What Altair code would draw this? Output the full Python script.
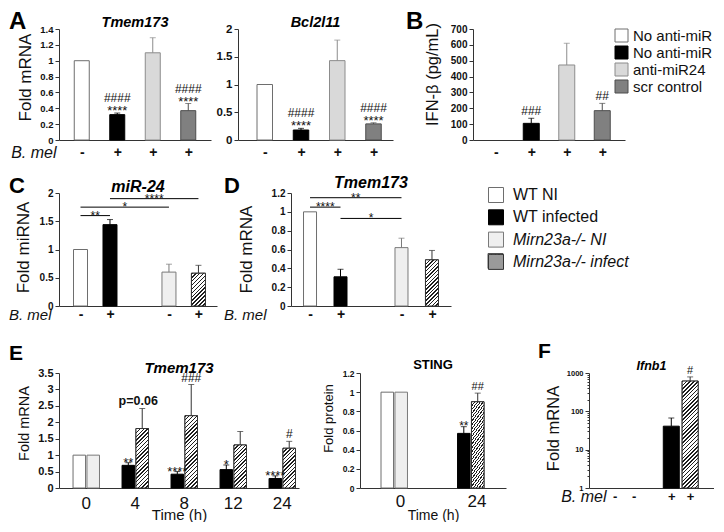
import math
import altair as alt
import pandas as pd

FONT = "Liberation Sans"
AX = "#333333"
TXT = "#111111"

# ---------------- data ----------------
AB_KEYS = ["none_ni", "none_inf", "anti24", "scr"]
AB_LEG = ["No anti-miR", "No anti-miR", "anti-miR24", "scr control"]
AB_BMEL = ["-", "+", "+", "+"]

A1_VAL = [1.00, 0.32, 1.10, 0.37]
A1_ERR = [0.00, 0.02, 0.19, 0.09]
A1_HASH = ["", "####", "", "####"]
A1_STAR = ["", "****", "", "****"]

A2_VAL = [1.00, 0.18, 1.43, 0.29]
A2_ERR = [0.00, 0.03, 0.37, 0.02]
A2_HASH = ["", "####", "", "####"]
A2_STAR = ["", "****", "", "****"]

B_VAL = [0, 105, 473, 185]
B_ERR = [0, 32, 137, 46]
B_HASH = ["", "###", "", "##"]

G_KEYS = ["wt_ni", "wt_inf", "ko_ni", "ko_inf"]
G_LEG = ["WT NI", "WT infected", "Mirn23a-/- NI", "Mirn23a-/- infect"]

CD_SLOTS = ["wt_ni", "wt_inf", "", "ko_ni", "ko_inf"]
CD_BMEL = ["-", "+", "", "-", "+"]

C_VAL = [1.00, 1.44, 0.60, 0.58]
C_ERR = [0.00, 0.09, 0.14, 0.14]
C_BR_FROM = ["wt_ni", "wt_ni", "wt_inf"]
C_BR_TO = ["wt_inf", "ko_ni", "ko_inf"]
C_BR_TXT = ["**", "*", "****"]
C_BR_LVL = [1.60, 1.75, 1.90]

D_VAL = [1.00, 0.31, 0.62, 0.49]
D_ERR = [0.00, 0.08, 0.10, 0.10]
D_BR_FROM = ["wt_ni", "wt_ni", "wt_inf"]
D_BR_TO = ["wt_inf", "ko_ni", "ko_ni"]
D_BR_TXT = ["****", "**", "*"]
D_BR_LVL = [1.05, 1.15, 0.93]

E_TIMES = ["0", "4", "8", "12", "24"]
E_WT_VAL = [1.00, 0.69, 0.42, 0.56, 0.29]
E_WT_ERR = [0.00, 0.08, 0.08, 0.14, 0.08]
E_KO_VAL = [1.00, 1.81, 2.20, 1.31, 1.21]
E_KO_ERR = [0.00, 0.61, 0.95, 0.41, 0.21]
E_WT_STAR = ["", "**", "****", "*", "****"]
E_KO_HASH = ["", "", "###", "", "#"]
E_KO_NOTE = ["", "p=0.06", "", "", ""]

S_TIMES = ["0", "24"]
S_WT_VAL = [1.00, 0.57]
S_WT_ERR = [0.00, 0.07]
S_KO_VAL = [1.00, 0.90]
S_KO_ERR = [0.00, 0.09]
S_WT_STAR = ["", "**"]
S_KO_HASH = ["", "##"]

F_SLOTS = ["wt_ni", "ko_ni", "", "wt_inf", "ko_inf"]
F_BMEL = ["-", "-", "", "+", "+"]
F_KEYS = ["wt_ni", "ko_ni", "wt_inf", "ko_inf"]
F_VAL = [None, None, 41, 616]
F_ERR = [0, 0, 26, 175]
F_HASH = ["", "", "", "#"]

# ---------------- styles ----------------
FILL = {"none_ni": "#ffffff", "none_inf": "#000000", "anti24": "#d9d9d9", "scr": "#808080",
        "wt_ni": "#ffffff", "wt_inf": "#000000", "ko_ni": "#efefef", "ko_inf": "#9a9a9a"}
LINE = {"none_ni": "#6e6e6e", "none_inf": "#000000", "anti24": "#8c8c8c", "scr": "#4d4d4d",
        "wt_ni": "#6e6e6e", "wt_inf": "#000000", "ko_ni": "#7a7a7a", "ko_inf": "#333333"}


def hatch(w, h, pitch=3.8, dark=0.38):
    w = float(w)
    h = float(h)
    k = (w + h) / (w + h * h / w)
    n = max(2, int(round((w + h) / pitch)))
    stops = []
    for i in range(n):
        a = round(i / n, 5)
        b = round((i + dark) / n, 5)
        c = round((i + 1) / n, 5)
        stops += [{"offset": a, "color": "#1e1e1e"}, {"offset": b, "color": "#1e1e1e"},
                  {"offset": b, "color": "#ffffff"}, {"offset": c, "color": "#ffffff"}]
    return {"gradient": "linear", "x1": 0, "y1": 0, "x2": round(k, 5),
            "y2": round(k * h / w, 5), "stops": stops}


def y_axis(values, title, tx, ty, lsize, tsize, **extra):
    kw = dict(values=values, format="~r", labelFont=FONT, labelFontSize=lsize,
              labelFontWeight="bold", labelColor=TXT, labelPadding=2, tickSize=4,
              tickColor=AX, domainColor=AX, grid=False, labelFlush=False, labelOverlap=False)
    if title:
        kw.update(title=title, titleX=tx, titleY=ty, titleFont=FONT, titleFontSize=tsize,
                  titleFontWeight="normal", titleColor=TXT, titleBaseline="alphabetic",
                  titleAlign="center", titleAngle=270)
    else:
        kw["title"] = None
    kw.update(extra)
    return alt.Axis(**kw)


def x_slot_axis(labels, lsize, pad, bmel=None):
    vals = [i + 1 for i, l in enumerate(labels) if l]
    expr = "[" + ",".join("'%s'" % l for l in labels) + "][datum.value - 1]"
    kw = dict(values=vals, labelExpr=expr, labelFont=FONT, labelFontSize=lsize,
              labelFontWeight="bold", labelColor=TXT, labelBaseline="middle", labelPadding=pad,
              ticks=False, tickSize=0, domainColor=AX, grid=False, labelAngle=0,
              labelFlush=False, labelOverlap=False)
    if bmel:
        kw.update(title="B. mel", titleFont=FONT, titleFontSize=bmel[2], titleFontStyle="italic",
                  titleFontWeight="normal", titleColor=TXT, titleX=bmel[0], titleY=bmel[1],
                  titleAlign="right", titleBaseline="middle", titleAngle=0)
    else:
        kw["title"] = None
    return alt.Axis(**kw)


def x_band_axis(lsize, pad, tsize, ty):
    return alt.Axis(labelFont=FONT, labelFontSize=lsize, labelFontWeight="normal", labelColor=TXT,
                    labelBaseline="middle", labelPadding=pad, ticks=False, tickSize=0,
                    domainColor=AX, grid=False, labelAngle=0, title="Time (h)", titleFont=FONT,
                    titleFontSize=tsize, titleFontWeight="normal", titleColor=TXT,
                    titleY=ty, titleBaseline="alphabetic")


def one(text=""):
    return alt.Chart(pd.DataFrame({"t": [text]}))


def letter_layer(letter, lx, ly, size):
    return one(letter).mark_text(
        font=FONT, fontSize=size, fontWeight="bold", align="left", baseline="top", color="#000000"
    ).encode(text="t:N", x=alt.value(lx), y=alt.value(ly))


def title_layer(text, w, base, size, italic=True):
    kw = dict(font=FONT, fontSize=size, fontWeight="bold", align="center",
              baseline="alphabetic", color="#000000")
    if italic:
        kw["fontStyle"] = "italic"
    return one(text).mark_text(**kw).encode(text="t:N", x=alt.value(w / 2), y=alt.value(base))


def frame_layer(h, top, bottom, left=50):
    # invisible box fixing the extent of a row around its plots
    return one().mark_rect(opacity=0).encode(
        x=alt.value(-left), x2=alt.value(0), y=alt.value(-top), y2=alt.value(h + bottom))


def scales_for(keys, legend):
    fill = alt.Fill("key:N", scale=alt.Scale(domain=keys, range=[FILL[k] for k in keys]),
                    legend=legend)
    strk = alt.Stroke("key:N", scale=alt.Scale(domain=keys, range=[LINE[k] for k in keys]),
                      legend=None)
    col = alt.Color("key:N", scale=alt.Scale(domain=keys, range=[LINE[k] for k in keys]),
                    legend=None)
    return fill, strk, col


def common_layers(df, X, Y, extra_enc, mk, keys, legend, hatched, star_dy, star_fs,
                  hash_dy, hash_fs, note_dx=0, log=False):
    fill, strk, col = scales_for(keys, legend)
    base = alt.Chart(df)
    benc = dict(extra_enc)
    if log:
        benc["y2"] = alt.Y2("base:Q")
    layers = [base.mark_bar(strokeWidth=1, **mk).encode(
        x=X, y=Y("val"), fill=fill, stroke=strk, **benc).transform_filter("datum.val > 0")]
    for rid, grad in hatched:
        layers.append(base.mark_bar(strokeWidth=1, fill=grad, stroke=LINE["ko_inf"], **mk).encode(
            x=X, y=Y("val"), **benc).transform_filter("datum.rid == %d" % rid))
    layers.append(base.mark_rule(strokeWidth=1).encode(
        x=X, y=Y("top"), y2=alt.Y2("val:Q"), color=col, **extra_enc).transform_filter("datum.err > 0"))
    layers.append(base.mark_tick(orient="horizontal", size=6, thickness=1).encode(
        x=X, y=Y("top"), color=col, **extra_enc).transform_filter("datum.err > 0"))
    if "star" in df:
        layers.append(base.mark_text(font=FONT, fontSize=star_fs, baseline="alphabetic",
                                     dy=star_dy, color=TXT).encode(
            x=X, y=Y("top"), text="star:N", **extra_enc).transform_filter("datum.star != ''"))
    if "hash" in df:
        layers.append(base.mark_text(font=FONT, fontSize=hash_fs, baseline="alphabetic",
                                     dy=hash_dy, color=TXT).encode(
            x=X, y=Y("top"), text="hash:N", **extra_enc).transform_filter("datum.hash != ''"))
    if "note" in df:
        layers.append(base.mark_text(font=FONT, fontSize=12.5, fontWeight="bold",
                                     baseline="alphabetic", dy=-3, dx=note_dx, color=TXT).encode(
            x=X, y=Y("top"), text="note:N", **extra_enc).transform_filter("datum.note != ''"))
    return layers


def slot_panel(keys, slots, vals, errs, width, height, xdom, bw, ys, yax, xax, yfrac,
               star=None, hsh=None, star_dy=3, star_fs=13, hash_dy=-3, hash_fs=12,
               legend=None, br=None, logmin=None):
    df = pd.DataFrame({"key": keys, "val": vals, "err": errs})
    df["pos"] = [slots.index(k) + 1 for k in keys]
    df["top"] = df["val"] + df["err"]
    df["rid"] = list(range(len(keys)))
    if logmin is not None:
        df["base"] = logmin
    if star:
        df["star"] = star
    if hsh:
        df["hash"] = hsh
    xs = alt.Scale(domain=xdom, nice=False, zero=False)

    def X(f):
        return alt.X(f + ":Q", scale=xs, axis=xax)

    def Y(f):
        return alt.Y(f + ":Q", scale=ys, axis=yax)

    hatched = []
    for i in range(len(keys)):
        v = vals[i]
        if keys[i] == "ko_inf" and v is not None and v > 0:
            hatched.append((i, hatch(bw, yfrac(v) * height)))
    layers = common_layers(df, X("pos"), Y, {}, {"size": bw}, keys, legend,
                           hatched, star_dy, star_fs, hash_dy, hash_fs, log=logmin is not None)
    if br:
        fr, to, txt, lvl = br
        dfb = pd.DataFrame({"b1": [slots.index(k) + 1 for k in fr],
                            "b2": [slots.index(k) + 1 for k in to], "txt": txt, "lvl": lvl})
        dfb["mid"] = (dfb["b1"] + dfb["b2"]) / 2
        bb = alt.Chart(dfb)
        layers.append(bb.mark_rule(color="#000000", strokeWidth=1).encode(
            x=X("b1"), x2=alt.X2("b2:Q"), y=Y("lvl")))
        layers.append(bb.mark_text(font=FONT, fontSize=12, baseline="alphabetic", dy=4,
                                   color=TXT).encode(x=X("mid"), y=Y("lvl"), text="txt:N"))
    return layers


def band_panel(times, wt_val, wt_err, ko_val, ko_err, width, height, pi, po, align, spi,
               ys, yax, xax, yfrac, star=None, hsh=None, note=None, star_dy=4, star_fs=13,
               hash_dy=-3, hash_fs=12, note_dx=0):
    rows = []
    for i, t in enumerate(times):
        wk = "wt_ni" if i == 0 else "wt_inf"
        kk = "ko_ni" if i == 0 else "ko_inf"
        rows.append({"time": t, "geno": "WT", "key": wk, "val": wt_val[i], "err": wt_err[i],
                     "star": star[i] if star else "", "hash": "", "note": ""})
        rows.append({"time": t, "geno": "KO", "key": kk, "val": ko_val[i], "err": ko_err[i],
                     "star": "", "hash": hsh[i] if hsh else "", "note": note[i] if note else ""})
    df = pd.DataFrame(rows)
    df["top"] = df["val"] + df["err"]
    df["rid"] = list(range(len(df)))
    X = alt.X("time:N", scale=alt.Scale(domain=times, paddingInner=pi, paddingOuter=po,
                                        align=align), axis=xax)
    XO = alt.XOffset("geno:N", scale=alt.Scale(domain=["WT", "KO"], paddingInner=spi,
                                               paddingOuter=0))

    def Y(f):
        return alt.Y(f + ":Q", scale=ys, axis=yax)

    n = len(times)
    step = width / (n - pi + 2 * po)
    band = step * (1 - pi)
    sstep = band / (2 - spi)
    bw = sstep * (1 - spi)
    keys = sorted(set(df["key"]), key=lambda k: G_KEYS.index(k))
    hatched = []
    for _, r in df.iterrows():
        if r["key"] == "ko_inf":
            hatched.append((int(r["rid"]), hatch(bw, yfrac(r["val"]) * height)))
    return common_layers(df, X, Y, {"xOffset": XO}, {}, keys, None, hatched,
                         star_dy, star_fs, hash_dy, hash_fs, note_dx)


def panel(layers, w, h, extra=()):
    return alt.layer(*(list(layers) + list(extra))).properties(width=w, height=h)


def spacer(w, h):
    return one().mark_text(opacity=0).encode(
        text="t:N", x=alt.value(0), y=alt.value(h / 2)).properties(width=w, height=h)


# ---------------- legends ----------------
def lab_expr(keys, labels):
    return ("[" + ",".join("'%s'" % l for l in labels) + "][indexof([" +
            ",".join("'%s'" % k for k in keys) + "], datum.value)]")


legB = alt.Legend(orient="none", legendX=141, legendY=-1, title=None, symbolType="square",
                  symbolSize=169, symbolStrokeColor="#555555", symbolStrokeWidth=1,
                  labelFont=FONT, labelFontSize=15, labelColor=TXT,
                  labelOffset=4, rowPadding=0, padding=0, labelExpr=lab_expr(AB_KEYS, AB_LEG))
legD = alt.Legend(orient="none", legendX=197, legendY=-6, title=None, symbolType="square",
                  symbolSize=225, symbolStrokeColor="#555555", symbolStrokeWidth=1,
                  labelFont=FONT, labelFontSize=16, labelColor=TXT,
                  labelFontStyle=alt.ExprRef(
                      expr="(datum.value === 'ko_ni' || datum.value === 'ko_inf') ? 'italic' : 'normal'"),
                  labelOffset=9, rowPadding=2.3, padding=0, labelExpr=lab_expr(G_KEYS, G_LEG))

# ---------------- panels ----------------
H1, H2, H3 = 111, 113, 115


def lin(m):
    return lambda v: v / m


A1 = panel(slot_panel(
    AB_KEYS, AB_KEYS, A1_VAL, A1_ERR, 152, H1, [0.5, 4.5], 15,
    alt.Scale(domain=[0, 1.4], nice=False, zero=True),
    y_axis([0, 0.2, 0.4, 0.6, 0.8, 1, 1.2, 1.4], "Fold mRNA", -29, 48, 9.5, 17),
    x_slot_axis(AB_BMEL, 14, 12, bmel=(-3, 12, 16)), lin(1.4),
    star=A1_STAR, hsh=A1_HASH, star_dy=2, hash_dy=-11), 152, H1,
    [frame_layer(H1, 21, 24), letter_layer("A", -50, -19, 24),
     title_layer("Tmem173", 152, -2, 14.5)])

A2 = panel(slot_panel(
    AB_KEYS, AB_KEYS, A2_VAL, A2_ERR, 155, H1, [0.4, 4.4], 15.5,
    alt.Scale(domain=[0, 2], nice=False, zero=True),
    y_axis([0, 0.5, 1, 1.5, 2], None, 0, 0, 11.5, 17),
    x_slot_axis(AB_BMEL, 14, 12), lin(2),
    star=A2_STAR, hsh=A2_HASH, star_dy=2, hash_dy=-11), 155, H1,
    [title_layer("Bcl2l11", 155, -2, 14.5)])

Bp = panel(slot_panel(
    AB_KEYS, AB_KEYS, B_VAL, B_ERR, 152, H1, [0.5, 4.5], 16,
    alt.Scale(domain=[0, 700], nice=False, zero=True),
    y_axis([0, 100, 200, 300, 400, 500, 600, 700], "IFN-\u03b2 (pg/mL)", -36, 45, 10, 16.5),
    x_slot_axis(AB_BMEL, 14, 12), lin(700),
    hsh=B_HASH, hash_dy=-3, legend=legB), 152, H1,
    [letter_layer("B", -67, -19, 24)])

Cp = panel(slot_panel(
    G_KEYS, CD_SLOTS, C_VAL, C_ERR, 158, H2, [0.44, 5.46], 14,
    alt.Scale(domain=[0, 2], nice=False, zero=True),
    y_axis([0, 0.5, 1, 1.5, 2], "Fold miRNA", -31, 54, 10, 17),
    x_slot_axis(CD_BMEL, 14, 8, bmel=(-8, 8, 15)), lin(2),
    br=(C_BR_FROM, C_BR_TO, C_BR_TXT, C_BR_LVL)), 158, H2,
    [frame_layer(H2, 17, 24), letter_layer("C", -50, -17, 22),
     title_layer("miR-24", 158, -1, 16)])

Dp = panel(slot_panel(
    G_KEYS, CD_SLOTS, D_VAL, D_ERR, 160, H2, [0.54, 5.46], 13,
    alt.Scale(domain=[0, 1.2], nice=False, zero=True),
    y_axis([0, 0.2, 0.4, 0.6, 0.8, 1, 1.2], "Fold mRNA", -40, 56, 10, 17),
    x_slot_axis(CD_BMEL, 14, 8, bmel=(-25, 8, 15)), lin(1.2),
    legend=legD, br=(D_BR_FROM, D_BR_TO, D_BR_TXT, D_BR_LVL)), 160, H2,
    [letter_layer("D", -67, -17, 22), title_layer("Tmem173", 160, -5, 16),
     one().mark_rect(fill=hatch(15, 15, pitch=3.6), stroke="#555555", strokeWidth=1).encode(
         x=alt.value(197), x2=alt.value(212), y=alt.value(60.5), y2=alt.value(75.5))])

Ep = panel(band_panel(
    E_TIMES, E_WT_VAL, E_WT_ERR, E_KO_VAL, E_KO_ERR, 240, H3, 0.46, 0.179, 0.8, 0.1,
    alt.Scale(domain=[0, 3.5], nice=False, zero=True),
    y_axis([0, 0.5, 1, 1.5, 2, 2.5, 3, 3.5], "Fold mRNA", -31, 50, 11, 14.5),
    x_band_axis(17, 15, 15, 31), lin(3.5),
    star=E_WT_STAR, hsh=E_KO_HASH, note=E_KO_NOTE, star_dy=4, hash_dy=-3, note_dx=-4),
    240, H3,
    [frame_layer(H3, 32, 32), letter_layer("E", -50, -30, 21),
     title_layer("Tmem173", 240, 0, 15)])

Sp = panel(band_panel(
    S_TIMES, S_WT_VAL, S_WT_ERR, S_KO_VAL, S_KO_ERR, 146, H3, 0.49, 0.199, 0.69, 0.227,
    alt.Scale(domain=[0, 1.2], nice=False, zero=True),
    y_axis([0, 0.2, 0.4, 0.6, 0.8, 1, 1.2], "Fold protein", -28, 45, 8.5, 13),
    x_band_axis(17, 13, 14, 31), lin(1.2),
    star=S_WT_STAR, hsh=S_KO_HASH, star_dy=3, star_fs=12, hash_dy=-3, hash_fs=11),
    146, H3, [title_layer("STING", 146, -4, 13, italic=False)])

F_TICKS = [m * 10 ** e for e in range(3) for m in range(1, 10)] + [1000]
Fp = panel(slot_panel(
    F_KEYS, F_SLOTS, F_VAL, F_ERR, 125, H3, [-0.1, 6.0], 16,
    alt.Scale(type="log", domain=[1, 1000], nice=False),
    y_axis(F_TICKS, "Fold mRNA", -31, 55, 7.5, 16.5,
           labelExpr="indexof([1,10,100,1000], datum.value) >= 0 ? datum.label : ''",
           tickSize={"condition": {"test": "indexof([1,10,100,1000], datum.value) >= 0",
                                   "value": 4}, "value": 2}),
    x_slot_axis(F_BMEL, 13, 8, bmel=(17, 8, 16)), lambda v: math.log10(v) / 3,
    hsh=F_HASH, hash_dy=-3, hash_fs=11, logmin=1), 125, H3,
    [letter_layer("F", -51, -32, 21), title_layer("Ifnb1", 125, -3, 12.5)])

IND = dict(fill="independent", stroke="independent", color="independent")
row1 = alt.hconcat(A1, spacer(27, H1), A2, spacer(80, H1), Bp,
                   spacing=0, bounds="flush").resolve_scale(**IND)
row2 = alt.hconcat(Cp, spacer(74, H2), Dp, spacing=0, bounds="flush").resolve_scale(**IND)
row3 = alt.hconcat(Ep, spacer(61, H3), Sp, spacer(83, H3), Fp,
                   spacing=0, bounds="flush").resolve_scale(**IND)
chart = alt.vconcat(row1, row2, row3, spacing=11).resolve_scale(**IND)
chart = chart.properties(padding=0, background="white").configure_view(strokeWidth=0)

chart.save("out.html", embed_options={"renderer": "svg", "actions": False})
